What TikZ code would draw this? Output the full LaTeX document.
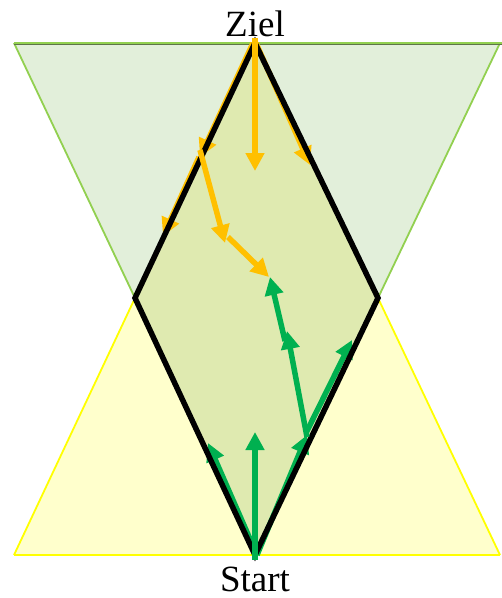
\documentclass[tikz,border=0pt]{standalone}
\usepackage{fontspec}
\setmainfont{Liberation Serif}
\usetikzlibrary{arrows.meta}
\definecolor{gfill}{HTML}{E2EFDA}
\definecolor{yfill}{HTML}{FFFFCC}
\definecolor{mixfill}{HTML}{DFEAB0}
\definecolor{gline}{HTML}{92D050}
\definecolor{gdark}{HTML}{5E7449}
\definecolor{ylline}{HTML}{FFFF00}
\definecolor{orangeA}{HTML}{FFC000}
\definecolor{greenA}{HTML}{00B050}
\tikzset{
  orarrow/.style={draw=orangeA, line width=5.5pt, -{Triangle[length=18pt,width=18pt,fill=orangeA]}},
  grarrow/.style={draw=greenA, line width=5.5pt, -{Triangle[length=18pt,width=18pt,fill=greenA]}},
  txtlabel/.style={font=\fontsize{37}{40}\selectfont, anchor=base, inner sep=0pt},
  border/.style={draw=black, line width=5.5pt, line join=miter}
}
\begin{document}
\begin{tikzpicture}[x=1pt,y=-1pt]
\useasboundingbox (0,0) rectangle (502,598);
% vertices
\coordinate (T) at (255,43);
\coordinate (B) at (255,555);
\coordinate (L) at (135,298);
\coordinate (R) at (378,298);
\coordinate (GTL) at (14,43);
\coordinate (GTR) at (500,43);
\coordinate (YBL) at (14,555);
\coordinate (YBR) at (500,555);
% green inverted triangle
\fill[gfill] (GTL) -- (GTR) -- (B) -- cycle;
\draw[gline, line width=1.8pt] (GTL) -- (L);
\draw[gline, line width=1.8pt] (GTR) -- (R);
% yellow triangle
\fill[yfill] (YBL) -- (YBR) -- (T) -- cycle;
\draw[ylline, line width=1.8pt] (YBL) -- (L);
\draw[ylline, line width=1.8pt] (YBR) -- (R);
\draw[ylline, line width=2pt] (YBL) -- (YBR);
% overlap
\fill[mixfill] (T) -- (R) -- (B) -- (L) -- cycle;
% top edge
\draw[gdark, line width=1.5pt] (14,44.5) -- (502,44.5);
\draw[gline, line width=2pt] (14,42.5) -- (502,42.5);
% path points
\coordinate (o1) at (200,157);
\coordinate (o2) at (163,236);
\coordinate (o3) at (310,165);
\coordinate (o4) at (255,171);
\coordinate (o5) at (225,243);
\coordinate (o6) at (269,277);
\coordinate (g1) at (255,432);
\coordinate (g2) at (307,435);
\coordinate (g3) at (352,340);
\coordinate (g4) at (208,443);
\coordinate (g5) at (287,331);
\coordinate (g6) at (270,277);
% edge arrows (below border)
\draw[orarrow] ([xshift=-2pt]T) -- (o1);
\draw[orarrow] ([xshift=-1pt]o1) -- (o2);
\draw[orarrow] ([xshift=1pt]T) -- (o3);
\draw[grarrow] ([xshift=2pt]B) -- (g2);
\draw[grarrow] ([xshift=-1pt,yshift=2pt]g2) -- (g3);
\draw[grarrow] ([xshift=2pt]B) -- (g4);
% diamond border
\draw[border] (T) -- (R) -- (B) -- (L) -- cycle;
% interior arrows
\draw[orarrow] ([yshift=5pt]T) -- (o4);
\draw[orarrow] ([yshift=7pt]o1) -- (o5);
\draw[orarrow] ([xshift=3pt,yshift=6pt]o5) -- (o6);
\draw[grarrow] ([yshift=-5pt]B) -- (g1);
\draw[grarrow] ([yshift=-2pt]g2) -- (g5);
\draw[grarrow] ([xshift=-2pt,yshift=-10pt]g5) -- (g6);
% labels
\node[txtlabel] (ziel) at (255,36) {Ziel};
\node[txtlabel] (start) at (255,591) {Start};
\end{tikzpicture}
\end{document}
